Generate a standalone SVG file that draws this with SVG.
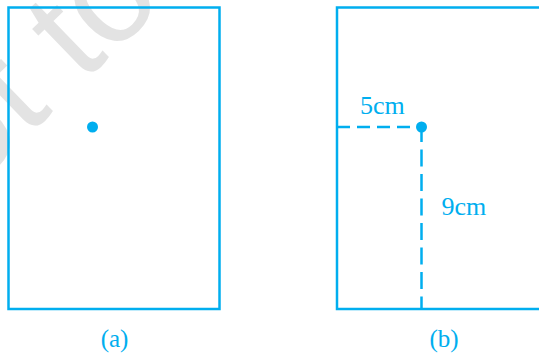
<svg xmlns="http://www.w3.org/2000/svg" width="539" height="356" viewBox="0 0 539 356">
<style>
.frame{fill:none;stroke:#00AEEF;stroke-width:2.5}
.dot{fill:#00AEEF}
.dash{fill:none;stroke:#00AEEF;stroke-width:2.5}
.lbl{font-family:"Liberation Serif","Times New Roman",serif;fill:#00AEEF}
.wm{font-family:"Liberation Sans",Arial,sans-serif;fill:#e3e3e3;font-size:140px}
</style>
<rect width="539" height="356" fill="#ffffff"/>
<text class="wm" transform="translate(-86,246) rotate(-44)">not to be republished</text>
<g id="fig-a">
<rect class="frame" x="8.5" y="7.5" width="211" height="301.5"/>
<circle class="dot" cx="92.5" cy="127" r="5.5"/>
<text class="lbl" x="114.5" y="347" font-size="25" text-anchor="middle">(a)</text>
</g>
<g id="fig-b">
<rect class="frame" x="337" y="7.5" width="210" height="301.5"/>
<circle class="dot" cx="421.5" cy="127" r="5.5"/>
<text class="lbl" x="360" y="113.5" font-size="26">5cm</text>
<text class="lbl" x="441.5" y="215" font-size="26">9cm</text>
<text class="lbl" x="444" y="347" font-size="25" text-anchor="middle">(b)</text>
</g>
<g id="connectors">
<line class="dash" x1="337" y1="127" x2="421.5" y2="127" stroke-dasharray="13 7"/>
<line class="dash" x1="421.5" y1="125" x2="421.5" y2="309" stroke-dasharray="17 7.5"/>
</g>
</svg>
